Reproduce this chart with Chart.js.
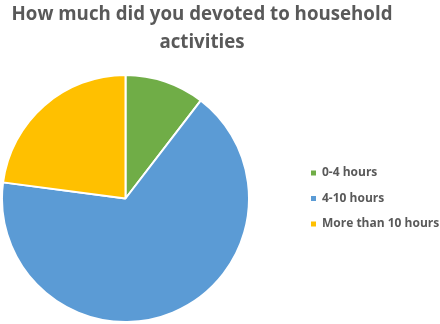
<!DOCTYPE html>
<html>
<head>
<meta charset="utf-8">
<script src="https://cdn.jsdelivr.net/npm/chart.js@4/dist/chart.umd.min.js"></script>
<style>
  html, body { margin: 0; padding: 0; background: #ffffff; }
  #wrap { width: 440px; height: 324px; }
</style>
</head>
<body>
<div id="wrap"><canvas id="c" width="440" height="324"></canvas></div>
<script>
const titleLines = ['How much did you devoted to household', 'activities'];
const categories = ['0-4 hours', '4-10 hours', 'More than 10 hours'];
const values = [5, 32, 11];
const sliceColors = ['#70AD47', '#5B9BD5', '#FFC000'];

const baseLabels = Chart.overrides.doughnut.plugins.legend.labels.generateLabels;

new Chart(document.getElementById('c'), {
  type: 'pie',
  data: {
    labels: categories,
    datasets: [{
      data: values,
      backgroundColor: sliceColors,
      borderColor: '#ffffff',
      borderWidth: 2
    }]
  },
  options: {
    responsive: false,
    animation: false,
    devicePixelRatio: 1,
    layout: { padding: { left: -36, right: 0, top: 0, bottom: 1 } },
    plugins: {
      title: {
        display: true,
        text: titleLines,
        color: '#595959',
        font: { family: 'Open Sans', size: 18.7, weight: 'bold', lineHeight: '28px' },
        padding: { top: 1, bottom: 17 }
      },
      // empty gap between the pie and the legend
      subtitle: {
        display: true,
        text: '',
        position: 'right',
        fullSize: false,
        weight: 500,
        font: { size: 10, lineHeight: '46.5px' },
        padding: 0
      },
      legend: {
        position: 'right',
        fullSize: false,
        maxWidth: 142.5,
        labels: {
          color: '#595959',
          font: { family: 'Open Sans', size: 12, weight: 'bold' },
          boxWidth: 5,
          boxHeight: 5,
          padding: 13.5,
          generateLabels: (chart) => baseLabels(chart).map(l => Object.assign(l, { lineWidth: 0 }))
        }
      },
      tooltip: { enabled: false }
    }
  }
});
</script>
</body>
</html>
